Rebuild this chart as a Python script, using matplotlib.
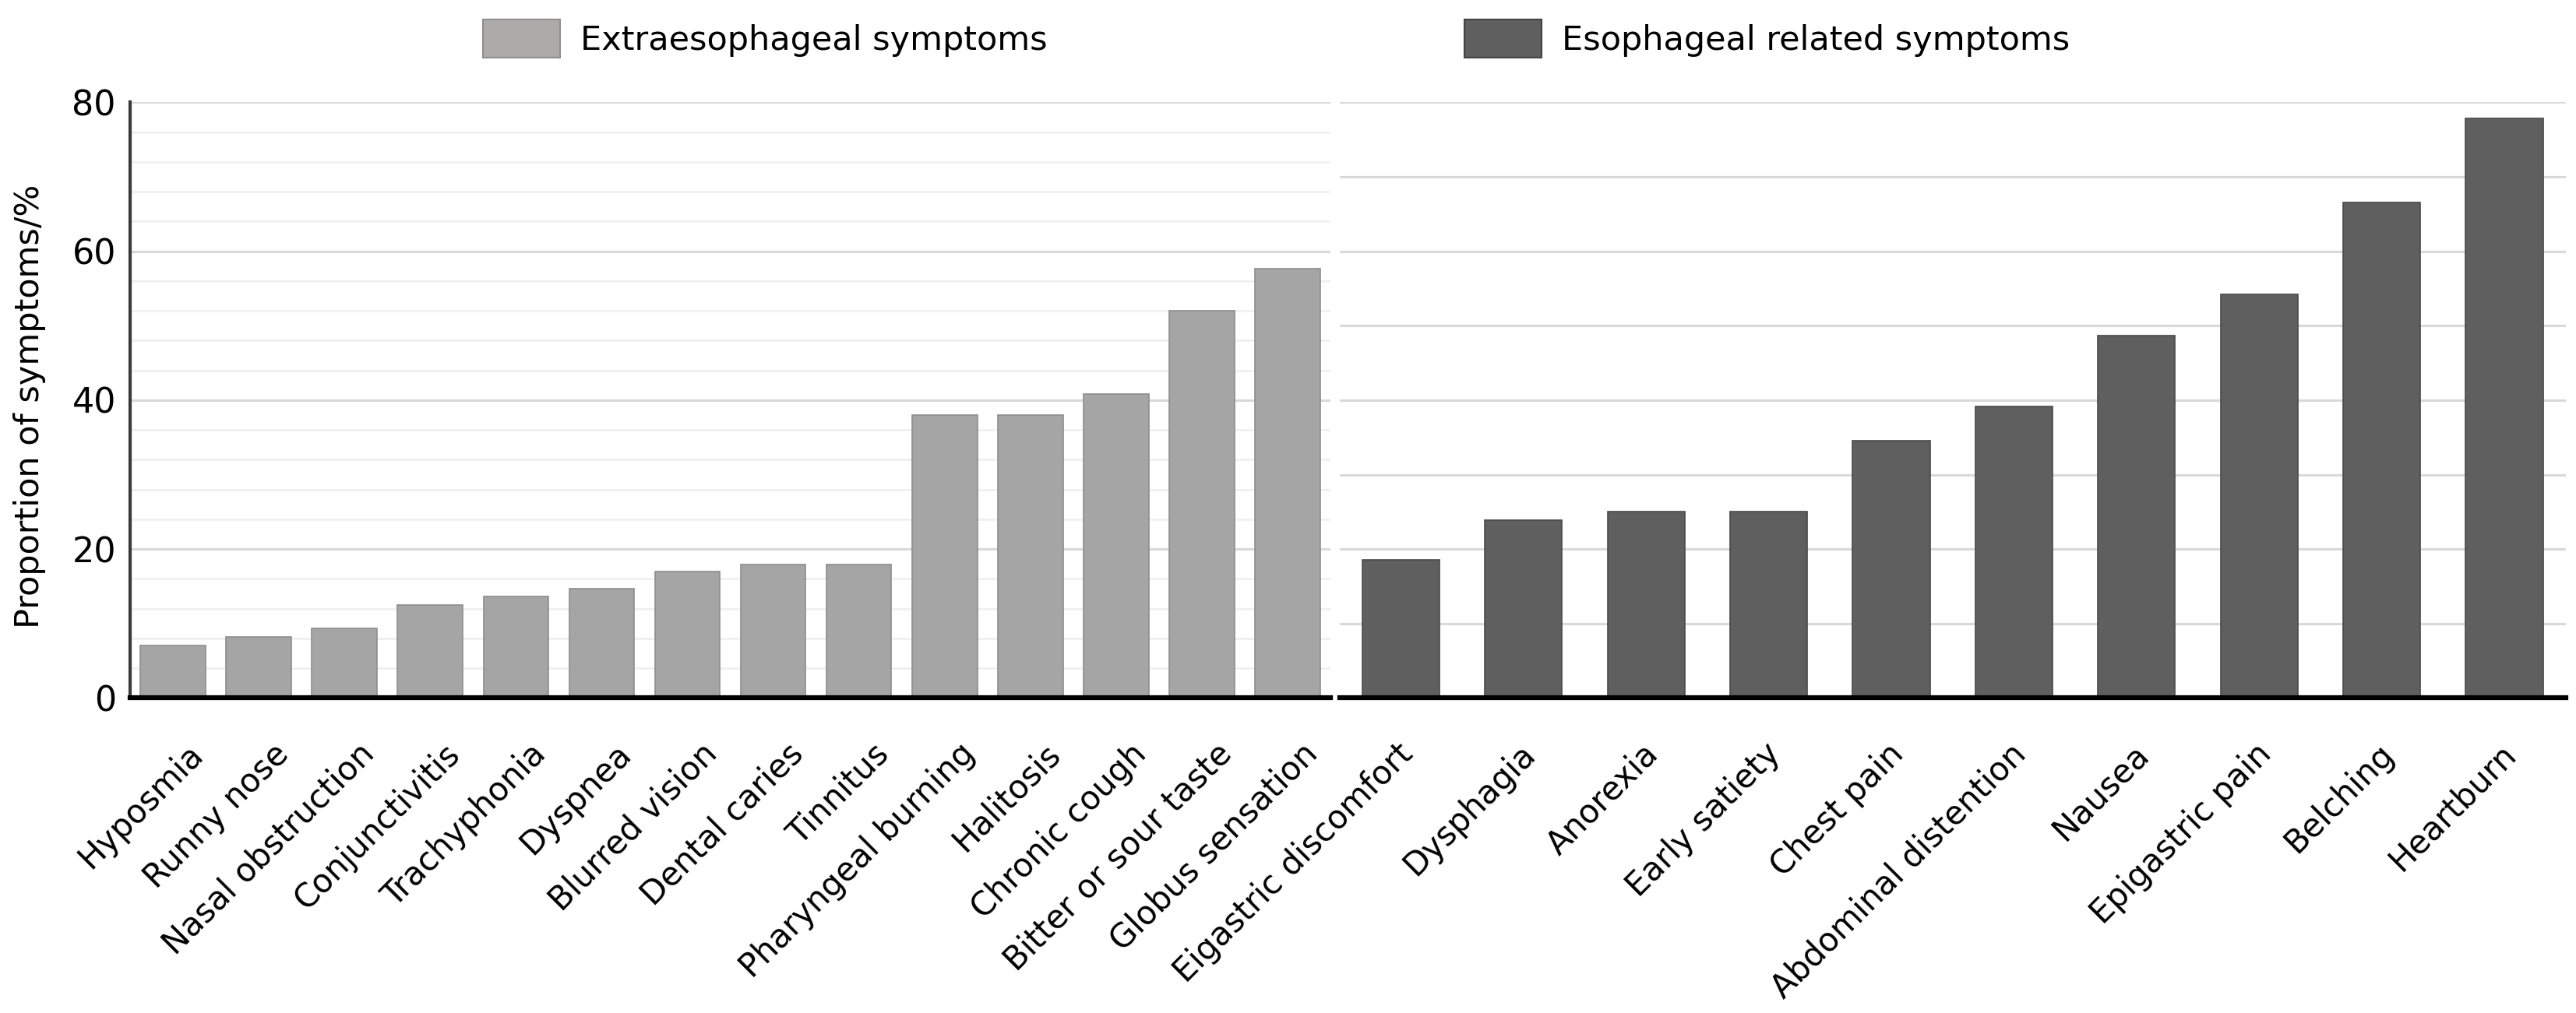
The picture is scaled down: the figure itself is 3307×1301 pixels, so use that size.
import matplotlib
matplotlib.use("Agg")
from matplotlib import pyplot as plt
from matplotlib.patches import Patch
from matplotlib.transforms import ScaledTranslation
import numpy as np

# data
extra_names = ["Hyposmia", "Runny nose", "Nasal obstruction", "Conjunctivitis", "Trachyphonia",
               "Dyspnea", "Blurred vision", "Dental caries", "Tinnitus", "Pharyngeal burning",
               "Halitosis", "Chronic cough", "Bitter or sour taste", "Globus sensation"]
extra_values = [7.0, 8.2, 9.3, 12.5, 13.6, 14.7, 17.0, 17.9, 17.9, 38.0, 38.0, 40.8, 52.0, 57.7]

eso_names = ["Eigastric discomfort", "Dysphagia", "Anorexia", "Early satiety", "Chest pain",
             "Abdominal distention", "Nausea", "Epigastric pain", "Belching", "Heartburn"]
eso_values = [18.5, 23.9, 25.0, 25.0, 34.5, 39.2, 48.7, 54.2, 66.5, 77.8]

fig = plt.figure(figsize=(33.07, 13.01), dpi=100, facecolor='w')
ax1 = fig.add_axes([0.0505, 0.311, 0.466, 0.588])
ax2 = fig.add_axes([0.520, 0.311, 0.476, 0.588])

# 左侧：食管外症状
x1 = np.arange(len(extra_names))
ax1.bar(x1, extra_values, width=0.76, color='#A5A5A5', edgecolor='#8E8E8E', linewidth=1.2, zorder=3)
ax1.set_xlim(-0.5, len(extra_names) - 0.5)
ax1.set_ylim(0, 80)
ax1.set_yticks(range(0, 81, 20))
ax1.set_yticks(range(0, 81, 4), minor=True)
ax1.grid(axis='y', which='major', color='#D9D9D9', linewidth=2.2, zorder=0)
ax1.grid(axis='y', which='minor', color='#EFEFEF', linewidth=1.8, zorder=0)
ax1.tick_params(axis='y', which='both', length=0, pad=13, labelsize=32)
ax1.set_ylabel("Proportion of symptoms/%", fontsize=31)
ax1.yaxis.set_label_coords(-0.070, 0.49)

# 右侧：食管相关症状
x2 = np.arange(len(eso_names))
ax2.bar(x2, eso_values, width=0.63, color='#5F5F5F', edgecolor='#4A4A4A', linewidth=1.2, zorder=3)
ax2.set_xlim(-0.5, len(eso_names) - 0.5)
ax2.set_ylim(0, 80)
ax2.set_yticks(range(0, 81, 10))
ax2.set_yticklabels([])
ax2.grid(axis='y', which='major', color='#D9D9D9', linewidth=2.2, zorder=0)
ax2.tick_params(axis='y', length=0)

for ax, xs, names, dx in [(ax1, x1, extra_names, 32), (ax2, x2, eso_names, 9)]:
    ax.set_xticks(xs)
    ax.set_xticklabels(names, rotation=45, ha='right', va='center', rotation_mode='anchor',
                       fontsize=30)
    ax.tick_params(axis='x', length=0, pad=47)
    off = ScaledTranslation(dx / 100, 0, fig.dpi_scale_trans)
    for t in ax.get_xticklabels():
        t.set_transform(t.get_transform() + off)
    for s in ['top', 'right']:
        ax.spines[s].set_visible(False)
    ax.spines['bottom'].set_color('black')
    ax.spines['bottom'].set_linewidth(4.5)
    ax.spines['bottom'].set_zorder(5)

ax1.spines['left'].set_color('#3A3A3A')
ax1.spines['left'].set_linewidth(3)
ax2.spines['left'].set_visible(False)

# 图例
h1 = Patch(facecolor='#ADAAAA', edgecolor='#8E8E8E', linewidth=1.5, label='Extraesophageal symptoms')
h2 = Patch(facecolor='#5F5F5F', edgecolor='#444444', linewidth=1.5, label='Esophageal related symptoms')
for h, xc in [(h1, 0.297), (h2, 0.686)]:
    fig.legend(handles=[h], loc='center', bbox_to_anchor=(xc, 0.962), frameon=False,
               prop={'size': 31}, handlelength=2.3, handleheight=1.35,
               handletextpad=0.6)

plt.savefig('out.png', dpi=100, facecolor='w')
